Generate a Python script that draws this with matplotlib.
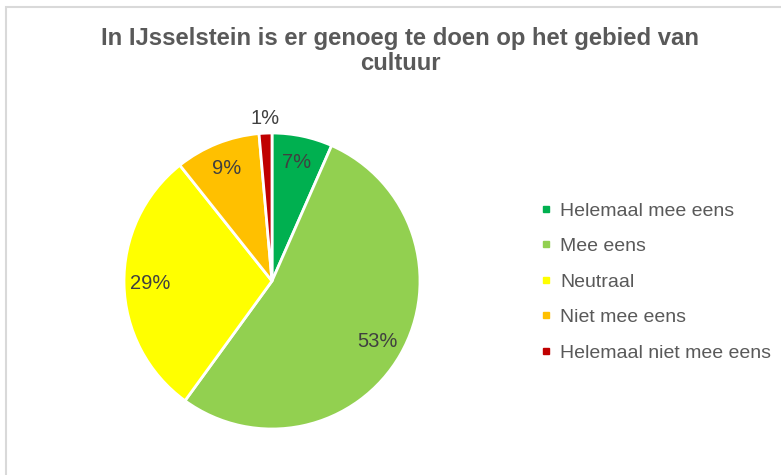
import matplotlib.pyplot as plt
from matplotlib.lines import Line2D
from matplotlib.patches import Rectangle

# data (percentages)
categories = ['Helemaal mee eens', 'Mee eens', 'Neutraal', 'Niet mee eens',
              'Helemaal niet mee eens']
values = [6.6, 53.4, 29.3, 9.3, 1.4]
colors = ['#00B050', '#92D050', '#FFFF00', '#FFC000', '#C00000']

title = 'In IJsselstein is er genoeg te doen op het gebied van\ncultuur'

plt.rcParams['font.family'] = ['Liberation Sans', 'DejaVu Sans']

W, H = 781, 475
fig = plt.figure(figsize=(W / 100, H / 100), dpi=100)

# chart border (runs off the right and bottom edge)
fig.patches.append(Rectangle((6 / W, -0.2), 1.5, (H - 7) / H + 0.2,
                             transform=fig.transFigure, fill=False,
                             edgecolor='#D9D9D9', linewidth=1.5))

fig.text(400 / W, 1 - 51 / H, title, ha='center', va='center',
         fontsize=17.2, fontweight='bold', color='#595959', linespacing=1.1)

# pie: centre ~ (272, 281) px, radius ~148 px
cx, cy, r = 272, 281, 148
ax = fig.add_axes([(cx - r) / W, (H - cy - r) / H, 2 * r / W, 2 * r / H])
wedges, texts, autotexts = ax.pie(
    values, colors=colors, startangle=90, counterclock=False,
    autopct='%.0f%%', pctdistance=0.82,
    wedgeprops=dict(edgecolor='white', linewidth=2),
    textprops=dict(fontsize=14.5, color='#404040'))
# small slice: label placed outside
autotexts[-1].set_position((-0.045, 1.1))
ax.set_xlim(-1, 1)
ax.set_ylim(-1, 1)
ax.set_aspect('equal')
ax.axis('off')

handles = [Line2D([], [], marker='s', linestyle='none', markersize=5,
                  markerfacecolor=c, markeredgecolor=c) for c in colors]
fig.legend(handles, categories, loc='upper left',
           bbox_to_anchor=(540 / W, 1 - 202 / H), frameon=False,
           fontsize=14, labelcolor='#595959', handlelength=0.6,
           handletextpad=0.45, labelspacing=0.92, borderpad=0, borderaxespad=0)

fig.savefig('out.png', dpi=100, facecolor='white')
